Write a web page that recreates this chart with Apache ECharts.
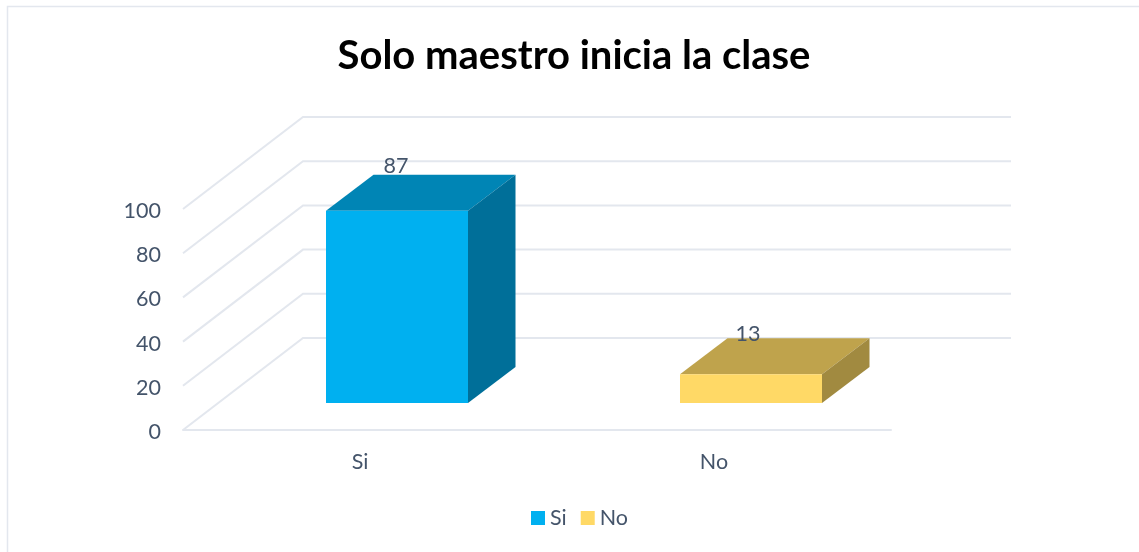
<!DOCTYPE html>
<html>
<head>
<meta charset="utf-8">
<title>Solo maestro inicia la clase</title>
<style>
  html, body { margin: 0; padding: 0; background: #fff; }
  #chart { width: 1139px; height: 552px; }
</style>
<script src="https://cdn.jsdelivr.net/npm/echarts@6/dist/echarts.min.js"></script>
</head>
<body>
<div id="chart"></div>
<script>
var categories = ['Si', 'No'];
var siValues = [87];
var noValues = [13];
var tickValues = [0, 20, 40, 60, 80, 100];

var textColor = '#44546A';
var lineColor = '#E3E7EE';
var fontName = 'Lato';
var fontSize = 21.5;

// depth of the fake 3d box
var wallDx = 120, wallDy = -92;
var barDx = 47.5, barDy = -36;
var barShiftX = 37, barShiftY = -27;
var barWidth = 142;

var chart = echarts.init(document.getElementById('chart'));

function renderWall(params, api) {
  var c = api.coord([0, api.value(1)]);
  var x0 = params.coordSys.x;
  var x1 = x0 + params.coordSys.width;
  return {
    type: 'polyline',
    silent: true,
    shape: { points: [[x0, c[1]], [x0 + wallDx, c[1] + wallDy], [x1 + wallDx, c[1] + wallDy]] },
    style: { fill: null, stroke: lineColor, lineWidth: 2 }
  };
}

function makeBar(name, index, values, colors, labelDx, labelDy) {
  return {
    name: name,
    type: 'custom',
    itemStyle: { color: colors[0] },
    encode: { x: 0, y: 1 },
    data: values.map(function (v) { return [index, v]; }),
    renderItem: function (params, api) {
      var top = api.coord([api.value(0), api.value(1)]);
      var base = api.coord([api.value(0), 0]);
      var l = top[0] + barShiftX - barWidth / 2;
      var r = l + barWidth;
      var t = top[1] + barShiftY;
      var b = base[1] + barShiftY;
      return {
        type: 'group',
        children: [
          { type: 'polygon', shape: { points: [[l, t], [r, t], [r + barDx, t + barDy], [l + barDx, t + barDy]] }, style: { fill: colors[1] } },
          { type: 'polygon', shape: { points: [[r, t], [r + barDx, t + barDy], [r + barDx, b + barDy], [r, b]] }, style: { fill: colors[2] } },
          { type: 'rect', shape: { x: l, y: t, width: barWidth, height: b - t }, style: { fill: colors[0] } },
          {
            type: 'text',
            x: top[0] + barShiftX + labelDx,
            y: t + labelDy,
            style: {
              text: String(api.value(1)),
              fill: textColor,
              font: fontSize + 'px ' + fontName,
              align: 'center',
              verticalAlign: 'middle'
            }
          }
        ]
      };
    }
  };
}

var option = {
  animation: false,
  backgroundColor: '#fff',
  title: {
    text: 'Solo maestro inicia la clase',
    left: 569,
    top: 31,
    textAlign: 'center',
    textStyle: { color: '#000', fontFamily: fontName, fontWeight: 'bold', fontSize: 40 }
  },
  graphic: [{
    type: 'rect',
    silent: true,
    shape: { x: 7.5, y: 6.5, width: 1200, height: 600 },
    style: { fill: null, stroke: lineColor, lineWidth: 1.5 }
  }],
  legend: {
    data: categories,
    left: 526,
    top: 502,
    icon: 'rect',
    itemWidth: 14,
    itemHeight: 14,
    itemGap: 14,
    textStyle: { color: textColor, fontFamily: fontName, fontSize: fontSize }
  },
  grid: { left: 183, top: 209, width: 708, height: 221 },
  xAxis: {
    type: 'category',
    data: categories,
    axisLine: { show: true, lineStyle: { color: lineColor, width: 2 } },
    axisTick: { show: false },
    axisLabel: { color: textColor, fontFamily: fontName, fontSize: fontSize, margin: 21 }
  },
  yAxis: {
    type: 'value',
    min: 0,
    max: 100,
    interval: 20,
    axisLine: { show: false },
    axisTick: { show: false },
    splitLine: { show: false },
    // small line height with top align pushes the digits down about 2px
    axisLabel: { color: textColor, fontFamily: fontName, fontSize: fontSize, margin: 22, verticalAlign: 'top', lineHeight: 4 }
  },
  series: [
    {
      name: 'wall',
      type: 'custom',
      silent: true,
      encode: { x: 0, y: 1 },
      data: tickValues.map(function (v) { return [0, v]; }),
      renderItem: renderWall
    },
    makeBar('Si', 0, siValues, ['#00B0F0', '#0085B5', '#006F99'], -1, -45),
    makeBar('No', 1, noValues, ['#FFD966', '#BFA34C', '#A18A40'], -3, -40)
  ]
};

chart.setOption(option);
</script>
</body>
</html>
